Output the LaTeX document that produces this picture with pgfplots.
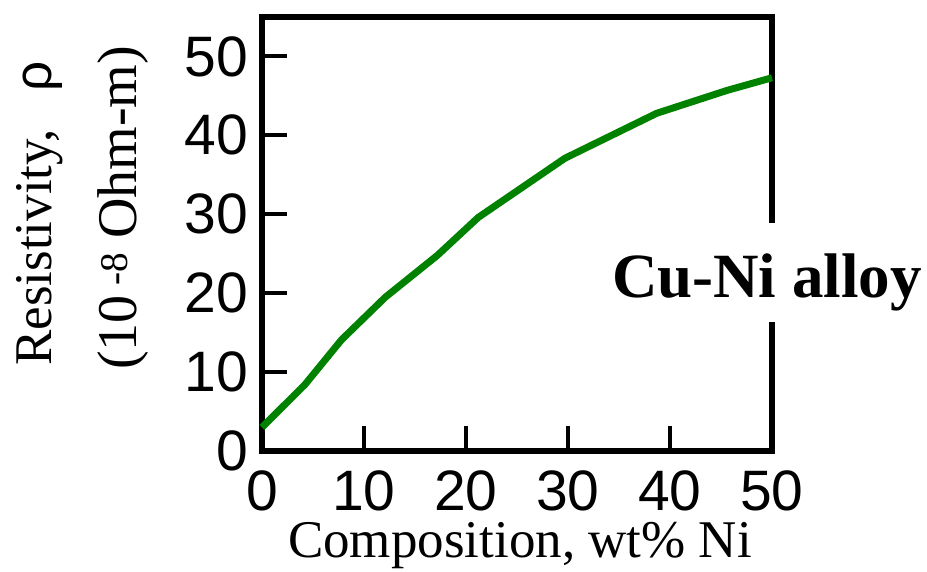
\documentclass[border=0pt]{standalone}
\usepackage{fontspec}
\setmainfont{Liberation Serif}
\setsansfont{Liberation Sans}
\usepackage{pgfplots}
\pgfplotsset{compat=1.18}
\definecolor{curvegreen}{RGB}{0,130,0}
\begin{document}
\begin{tikzpicture}
\path[use as bounding box] (-262pt,-120pt) rectangle (665pt,451pt);
\begin{axis}[
  at={(0pt,0pt)}, anchor=south west,
  scale only axis,
  width=510pt, height=434pt,
  xmin=0, xmax=50, ymin=0, ymax=55,
  xtick={0,10,20,30,40,50},
  ytick={0,10,20,30,40,50},
  xtick pos=left, ytick pos=left,
  tick align=inside,
  major tick length=25pt,
  every tick/.style={black, line width=4pt},
  axis line style={line width=5.5pt, line cap=rect},
  /pgf/number format/assume math mode=true,
  ticklabel style={font=\fontsize{57}{60}\selectfont\sffamily},
  xticklabel style={inner sep=0pt, yshift=-19pt},
  yticklabel style={inner sep=0pt, xshift=-14pt},
  clip=false,
]
\addplot[color=curvegreen, line width=7pt, line join=round] coordinates {
 (0,3.0) (4.2,8.4) (7.8,14.1) (12.1,19.5) (17.2,24.8) (21.2,29.6)
 (29.7,37.1) (38.7,42.8) (45.6,45.7) (50,47.3)
};
\coordinate (lab) at (axis cs:49.5,19.4);
\end{axis}
\node[fill=white, anchor=base, inner xsep=4pt, inner ysep=0pt, text height=75pt, text depth=24pt,
      font=\fontsize{63}{70}\selectfont\bfseries] at (lab) {Cu-Ni alloy};
\node[anchor=base, font=\fontsize{53}{60}\selectfont] at (258pt,-106pt) {Composition, wt\% Ni};
\node[rotate=90, anchor=base west, inner sep=0pt, font=\fontsize{53}{60}\selectfont] at (-210pt,85pt)
  {Resistivity,\hspace{38pt}{\sffamily ρ}};
\node[rotate=90, anchor=base west, inner sep=0pt, font=\fontsize{56}{60}\selectfont] at (-125pt,81pt)
  {(10\,\textsuperscript{-8} Ohm-m)};
\end{tikzpicture}
\end{document}
